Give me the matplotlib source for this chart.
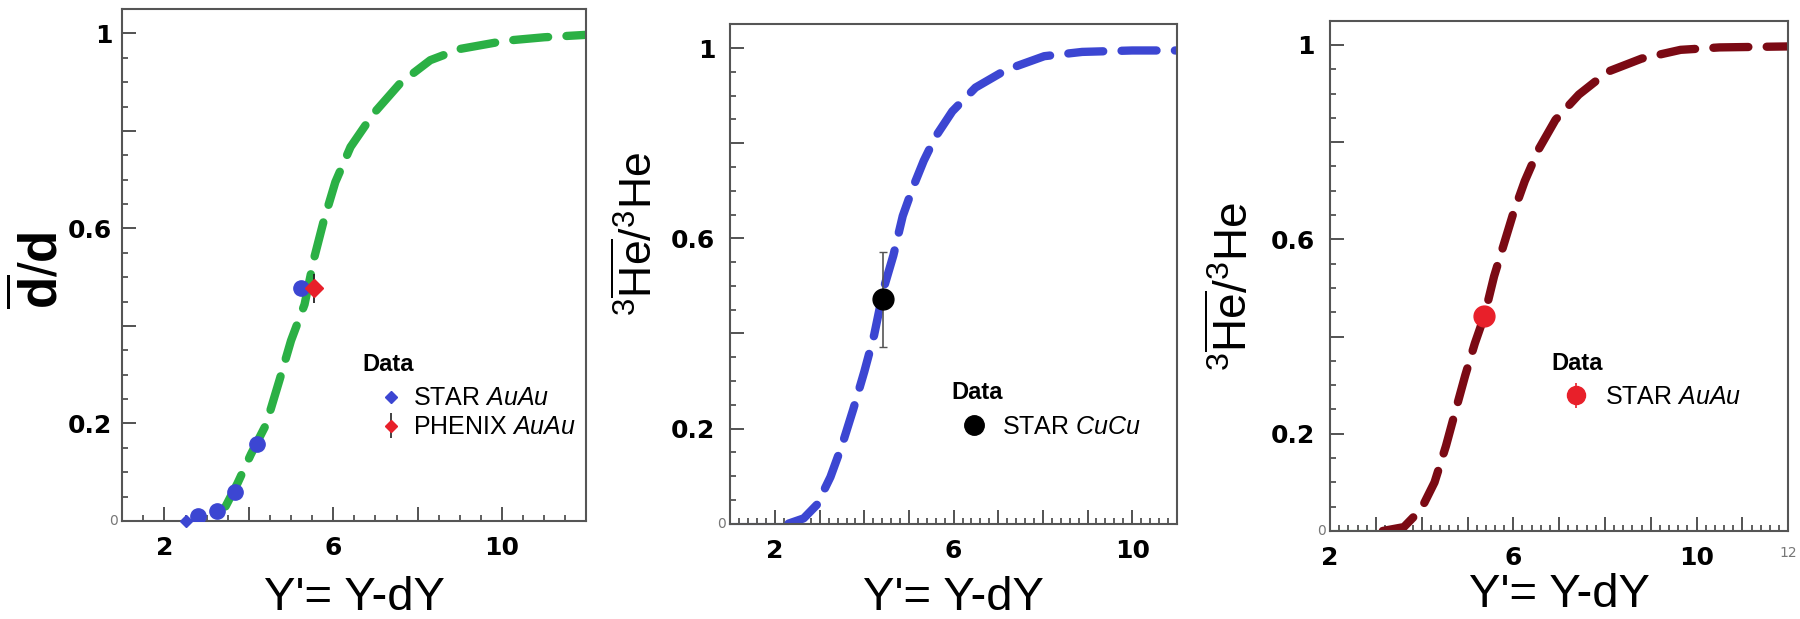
import matplotlib
matplotlib.use("Agg")
import matplotlib.pyplot as plt
from matplotlib.lines import Line2D
from matplotlib.ticker import MultipleLocator, FixedLocator, FixedFormatter

plt.rcParams['font.family'] = ['Liberation Sans', 'DejaVu Sans']
plt.rcParams['mathtext.fontset'] = 'custom'
plt.rcParams['mathtext.rm'] = 'Liberation Sans'
plt.rcParams['mathtext.it'] = 'Liberation Sans:italic'
plt.rcParams['mathtext.bf'] = 'Liberation Sans:bold'

# ---- panel 1 : anti-deuteron / deuteron ----
d_curve_x = [3.45, 3.73, 4.05, 4.41, 4.73, 5.0, 5.32, 5.55, 5.77, 6.05, 6.41,
             6.95, 7.59, 8.3, 9.0, 10.1, 11.0, 12.0]
d_curve_y = [0.03, 0.077, 0.137, 0.198, 0.29, 0.37, 0.444, 0.54, 0.614, 0.695,
             0.767, 0.835, 0.898, 0.945, 0.968, 0.985, 0.992, 0.997]
star_d_x = [2.79, 3.24, 3.68, 4.19, 5.24]
star_d_y = [0.011, 0.021, 0.059, 0.157, 0.477]
star_d_low_x = [2.5]
star_d_low_y = [0.0]
phenix_d_x = [5.55]
phenix_d_y = [0.477]
phenix_d_err = [0.03]

# ---- panel 2 : anti-He3 / He3 (CuCu) ----
he_cu_curve_x = [2.3, 2.64, 2.94, 3.24, 3.5, 3.75, 4.0, 4.22, 4.44, 4.65, 4.86,
                 5.08, 5.33, 5.59, 5.97, 6.49, 7.17, 8.03, 8.88, 10.0, 11.0]
he_cu_curve_y = [0.0, 0.011, 0.04, 0.098, 0.165, 0.24, 0.32, 0.397, 0.497, 0.564,
                 0.647, 0.705, 0.763, 0.813, 0.867, 0.917, 0.954, 0.983, 0.992,
                 0.995, 0.995]
he_cu_flat_x = [1.0, 2.3]
he_cu_flat_y = [0.0, 0.0]
star_cu_x = [4.42]
star_cu_y = [0.472]
star_cu_err = [0.1]

# ---- panel 3 : anti-He3 / He3 (AuAu) ----
he_au_curve_x = [3.15, 3.61, 3.99, 4.28, 4.53, 4.74, 4.95, 5.16, 5.37, 5.58, 5.79,
                 6.0, 6.25, 6.55, 6.92, 7.43, 8.06, 8.8, 9.65, 10.5, 12.0]
he_au_curve_y = [0.0, 0.008, 0.045, 0.1, 0.175, 0.248, 0.32, 0.386, 0.443, 0.524,
                 0.589, 0.654, 0.72, 0.785, 0.846, 0.898, 0.945, 0.972, 0.99, 0.995,
                 0.997]
he_au_flat_x = [2.0, 3.1]
he_au_flat_y = [0.0, 0.0]
star_au_x = [5.36]
star_au_y = [0.443]
star_au_err = [0.02]

xlabel = "Y'= Y-dY"
green = '#2bb045'
blue = '#3c46d2'
maroon = '#7b0a14'
red = '#e8202a'
dash = (0, (4.2, 2.2))
tickfont = ['DejaVu Sans']

fig = plt.figure(figsize=(18, 6.19), dpi=100)
ax1 = fig.add_axes([0.0679, 0.1583, 0.2579, 0.8272])
ax2 = fig.add_axes([0.4058, 0.1541, 0.2480, 0.8066])
ax3 = fig.add_axes([0.7389, 0.1422, 0.2546, 0.8244])


def style_axes(ax, xlim, xmajor, xminor, xlabels, ypad):
    ax.set_xlim(*xlim)
    ax.set_ylim(0, 1.05)
    for s in ax.spines.values():
        s.set_color('#555555')
        s.set_linewidth(1.5)
    ax.xaxis.set_major_locator(MultipleLocator(xmajor))
    ax.xaxis.set_minor_locator(MultipleLocator(xminor))
    ticks = ax.get_xticks()
    ticks = [t for t in ticks if xlim[0] - 1e-6 <= t <= xlim[1] + 1e-6]
    ax.xaxis.set_major_locator(FixedLocator(ticks))
    ax.xaxis.set_major_formatter(FixedFormatter(
        [xlabels.get(int(round(t)), '') for t in ticks]))
    ax.yaxis.set_major_locator(FixedLocator([0, 0.2, 0.4, 0.6, 0.8, 1.0]))
    ax.yaxis.set_major_formatter(FixedFormatter(['', '0.2', '', '0.6', '', '1']))
    ax.yaxis.set_minor_locator(MultipleLocator(0.05))
    ax.tick_params(which='major', direction='in', length=10, width=1.3,
                   color='#444444', labelsize=18)
    ax.tick_params(which='minor', direction='in', length=4.5, width=1.2,
                   color='#444444')
    ax.tick_params(axis='x', which='major', pad=11)
    ax.tick_params(axis='y', which='major', pad=ypad)
    for lab in ax.get_xticklabels() + ax.get_yticklabels():
        lab.set_fontweight('bold')
        lab.set_fontfamily(tickfont)
    ax.annotate('0', xy=(0, 0), xycoords='axes fraction', xytext=(-3, 0),
                textcoords='offset points', ha='right', va='center',
                fontsize=10, color='#777777', fontfamily=tickfont)


def set_labels(ax, ylabel, ysize, ypos, xpos_y):
    ax.set_ylabel(ylabel, fontsize=ysize)
    ax.yaxis.label.set_verticalalignment('center')
    ax.yaxis.set_label_coords(*ypos)
    ax.set_xlabel(xlabel, fontsize=34)
    ax.xaxis.label.set_verticalalignment('center')
    ax.xaxis.set_label_coords(0.5, xpos_y)


he_label = r'$^{3}\overline{\mathrm{He}}/^{3}\mathrm{He}$'

# panel 1
style_axes(ax1, (1, 12), 2, 0.5, {2: '2', 6: '6', 10: '10'}, 7)
ax1.plot(d_curve_x, d_curve_y, color=green, lw=6, linestyle=dash,
         dash_capstyle='round', zorder=2)
ax1.plot(star_d_x, star_d_y, 'o', color=blue, ms=11, zorder=3)
ax1.plot(star_d_low_x, star_d_low_y, 'D', color=blue, ms=6, zorder=3,
         clip_on=False)
ax1.errorbar(phenix_d_x, phenix_d_y, yerr=phenix_d_err, fmt='D', color=red,
             ms=9, ecolor='#222222', elinewidth=1.3, zorder=4)
set_labels(ax1, r'$\overline{\mathbf{d}}/\mathbf{d}$', 38, (-0.177, 0.49), -0.150)
ax1.text(0.518, 0.305, 'Data', transform=ax1.transAxes, fontsize=17,
         fontweight='bold', ha='left', va='center')
h_star = Line2D([], [], marker='D', color=blue, ls='none', ms=6)
h_ph = ax1.errorbar([], [], yerr=[], fmt='D', color=red, ms=6,
                    ecolor='#222222', elinewidth=1.2, capsize=2)
ax1.legend([h_star, h_ph], [r'STAR $\mathit{AuAu}$', r'PHENIX $\mathit{AuAu}$'],
           loc='center left', bbox_to_anchor=(0.551, 0.211), frameon=False,
           fontsize=18, handlelength=1.0, handletextpad=0.4, labelspacing=0.2,
           borderpad=0, borderaxespad=0)

# panel 2
style_axes(ax2, (1, 11), 1, 0.2, {2: '2', 6: '6', 10: '10'}, 11)
ax2.plot(he_cu_flat_x, he_cu_flat_y, color=blue, lw=1.5, zorder=2, clip_on=False)
ax2.plot(he_cu_curve_x, he_cu_curve_y, color=blue, lw=6, linestyle=dash,
         dash_capstyle='round', zorder=2)
ax2.errorbar(star_cu_x, star_cu_y, yerr=star_cu_err, fmt='o', color='black',
             ms=15, ecolor='#555555', elinewidth=1.2, capsize=3, zorder=4)
set_labels(ax2, he_label, 32, (-0.207, 0.58), -0.149)
ax2.text(0.4956, 0.2616, 'Data', transform=ax2.transAxes, fontsize=17,
         fontweight='bold', ha='left', va='center')
h_cu = Line2D([], [], marker='o', color='black', ls='none', ms=14)
ax2.legend([h_cu], [r'STAR $\mathit{CuCu}$'], loc='center left',
           bbox_to_anchor=(0.5176, 0.194), frameon=False, fontsize=18,
           handlelength=1.0, handletextpad=0.64, borderpad=0, borderaxespad=0)

# panel 3
style_axes(ax3, (2, 12), 1, 0.2, {2: '2', 6: '6', 10: '10', 12: '12'}, 11)
for lab in ax3.get_xticklabels():
    if lab.get_text() == '12':
        lab.set_fontsize(10)
        lab.set_fontweight('normal')
        lab.set_color('#777777')
ax3.plot(he_au_flat_x, he_au_flat_y, color='#33cc33', lw=1.5, zorder=2)
ax3.plot(he_au_curve_x, he_au_curve_y, color=maroon, lw=6, linestyle=dash,
         dash_capstyle='round', zorder=2)
ax3.errorbar(star_au_x, star_au_y, yerr=star_au_err, fmt='o', color=red,
             ms=15, ecolor=red, elinewidth=1.2, zorder=4)
set_labels(ax3, he_label, 33, (-0.208, 0.48), -0.125)
ax3.text(0.484, 0.329, 'Data', transform=ax3.transAxes, fontsize=17,
         fontweight='bold', ha='left', va='center')
h_au = ax3.errorbar([], [], yerr=[], fmt='o', color=red, ms=13, ecolor=red,
                    elinewidth=1.2)
ax3.legend([h_au], [r'STAR $\mathit{AuAu}$'], loc='center left',
           bbox_to_anchor=(0.51, 0.263), frameon=False, fontsize=18,
           handlelength=1.0, handletextpad=0.64, borderpad=0, borderaxespad=0)

fig.savefig('out.png', dpi=100)
